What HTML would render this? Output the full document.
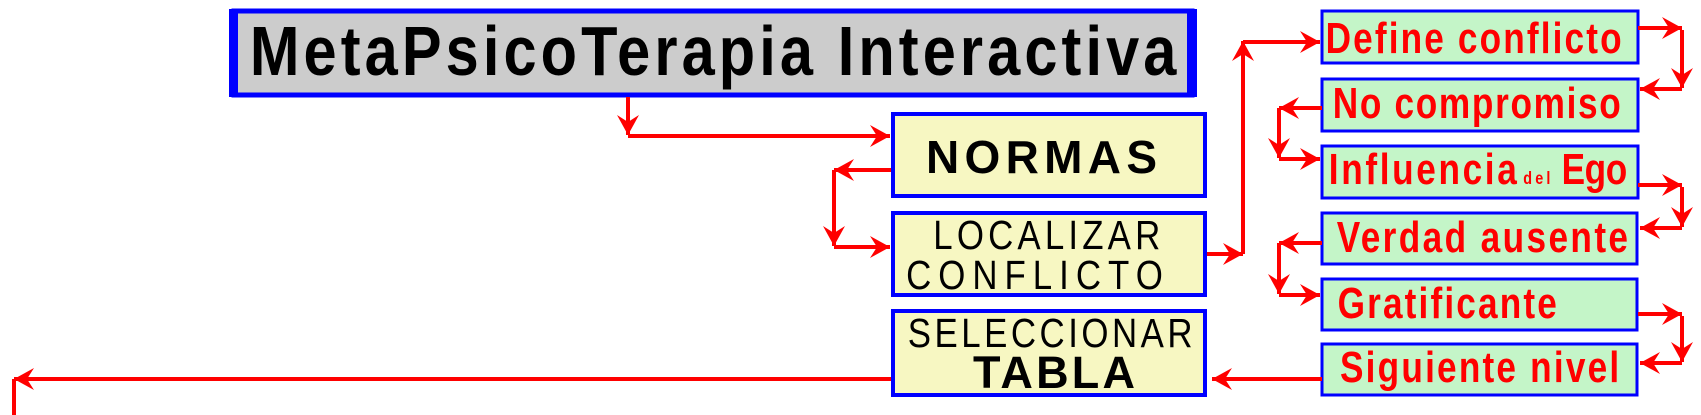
<!DOCTYPE html>
<html><head><meta charset="utf-8"><style>
html,body{margin:0;padding:0;background:#fff;}
svg{display:block;}
</style></head><body>
<svg width="1701" height="415" viewBox="0 0 1701 415" xmlns="http://www.w3.org/2000/svg">
<defs>
<marker id="a" markerUnits="userSpaceOnUse" viewBox="-22 -12 24 24" refX="0" refY="0" markerWidth="24" markerHeight="24" orient="auto">
<path d="M0,0 L-20,-11 L-13,0 L-20,11 Z" fill="#ff0000"/>
</marker>
</defs>
<!-- Title -->
<rect x="234" y="11" width="958" height="84" fill="#cccccc" stroke="#0000ff" stroke-width="5"/>
<rect x="229" y="9" width="9" height="88" fill="#0000ff"/>
<rect x="1187" y="9" width="10" height="88" fill="#0000ff"/>
<text transform="scale(0.85,1)" x="294" y="75" font-family="Liberation Sans, sans-serif" font-weight="bold" font-size="70" textLength="1090" lengthAdjust="spacing" fill="#000">MetaPsicoTerapia Interactiva</text>

<!-- Yellow boxes -->
<g fill="#f7f7c2" stroke="#0000ff" stroke-width="4">
<rect x="893" y="114" width="312" height="82"/>
<rect x="893" y="213" width="312" height="82"/>
<rect x="893" y="311" width="312" height="84"/>
</g>
<g font-family="Liberation Sans, sans-serif" fill="#000">
<text x="926" y="173" font-size="46" font-weight="bold" textLength="231" lengthAdjust="spacing">NORMAS</text>
<text transform="scale(0.85,1)" x="1098" y="249" font-size="41" textLength="267" lengthAdjust="spacing">LOCALIZAR</text>
<text transform="scale(0.85,1)" x="1066" y="289" font-size="41" textLength="302" lengthAdjust="spacing">CONFLICTO</text>
<text transform="scale(0.85,1)" x="1068" y="347" font-size="41" textLength="335" lengthAdjust="spacing">SELECCIONAR</text>
<text x="973" y="388" font-size="45" font-weight="bold" textLength="162" lengthAdjust="spacing">TABLA</text>
</g>

<!-- Green boxes -->
<g fill="#c4f5c8" stroke="#0000ff" stroke-width="3">
<rect x="1322" y="11" width="316" height="52"/>
<rect x="1322" y="79" width="316" height="52"/>
<rect x="1322" y="146" width="316" height="52"/>
<rect x="1322" y="213" width="315" height="51"/>
<rect x="1322" y="279" width="315" height="51"/>
<rect x="1322" y="344" width="315" height="51"/>
</g>
<g transform="scale(0.8,1)" font-family="Liberation Sans, sans-serif" font-weight="bold" fill="#ff0000" font-size="44">
<text x="1657" y="53" textLength="370" lengthAdjust="spacing">Define conflicto</text>
<text x="1666" y="118" textLength="360" lengthAdjust="spacing">No compromiso</text>
<text x="1661" y="184" textLength="235" lengthAdjust="spacing">Influencia</text>
<text x="1904" y="184" font-size="18" textLength="34" lengthAdjust="spacing">del</text>
<text x="1952" y="184" textLength="82" lengthAdjust="spacing">Ego</text>
<text x="1671" y="252" textLength="364" lengthAdjust="spacing">Verdad ausente</text>
<text x="1672" y="318" textLength="274" lengthAdjust="spacing">Gratificante</text>
<text x="1675" y="382" textLength="349" lengthAdjust="spacing">Siguiente nivel</text>
</g>

<!-- Connectors -->
<g stroke="#ff0000" stroke-width="4" fill="none">
<line x1="628" y1="97" x2="628" y2="135" marker-end="url(#a)"/>
<line x1="628" y1="136" x2="890" y2="136" marker-end="url(#a)"/>
<line x1="891" y1="170" x2="834" y2="170" marker-end="url(#a)"/>
<line x1="834" y1="170" x2="834" y2="246" marker-end="url(#a)"/>
<line x1="834" y1="247" x2="890" y2="247" marker-end="url(#a)"/>
<line x1="1207" y1="254" x2="1243" y2="254" marker-end="url(#a)"/>
<line x1="1243" y1="254" x2="1243" y2="41" marker-end="url(#a)"/>
<line x1="1243" y1="42" x2="1320" y2="42" marker-end="url(#a)"/>
<line x1="1638" y1="28" x2="1682" y2="28" marker-end="url(#a)"/>
<line x1="1682" y1="30" x2="1682" y2="88" marker-end="url(#a)"/>
<line x1="1682" y1="89" x2="1640" y2="89" marker-end="url(#a)"/>
<line x1="1322" y1="108" x2="1279" y2="108" marker-end="url(#a)"/>
<line x1="1279" y1="108" x2="1279" y2="158" marker-end="url(#a)"/>
<line x1="1279" y1="159" x2="1320" y2="159" marker-end="url(#a)"/>
<line x1="1638" y1="185" x2="1682" y2="185" marker-end="url(#a)"/>
<line x1="1682" y1="187" x2="1682" y2="227" marker-end="url(#a)"/>
<line x1="1682" y1="228" x2="1640" y2="228" marker-end="url(#a)"/>
<line x1="1322" y1="243" x2="1279" y2="243" marker-end="url(#a)"/>
<line x1="1279" y1="243" x2="1279" y2="294" marker-end="url(#a)"/>
<line x1="1279" y1="295" x2="1320" y2="295" marker-end="url(#a)"/>
<line x1="1638" y1="314" x2="1682" y2="314" marker-end="url(#a)"/>
<line x1="1682" y1="316" x2="1682" y2="362" marker-end="url(#a)"/>
<line x1="1682" y1="363" x2="1640" y2="363" marker-end="url(#a)"/>
<line x1="1322" y1="379" x2="1212" y2="379" marker-end="url(#a)"/>
<line x1="891" y1="379" x2="14" y2="379" marker-end="url(#a)"/>
<line x1="14" y1="379" x2="14" y2="415"/>
</g>
</svg>
</body></html>
